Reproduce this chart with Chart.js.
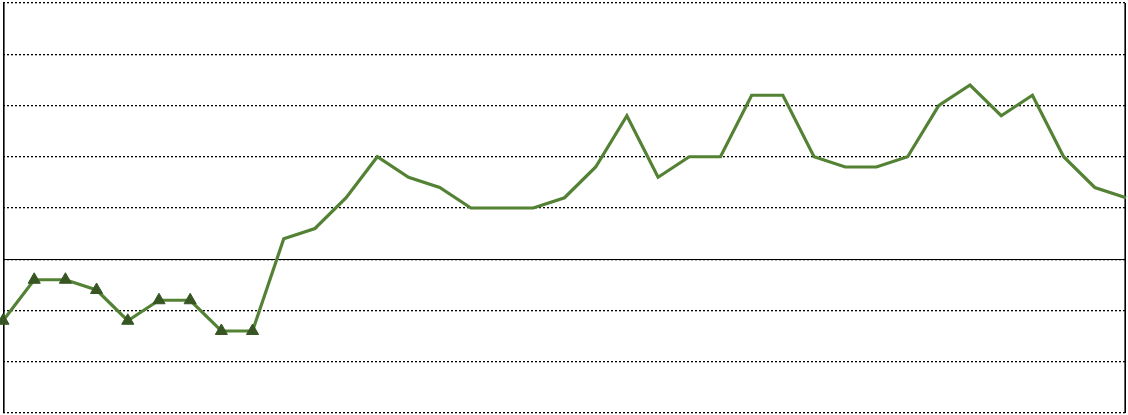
<!DOCTYPE html>
<html lang="en">
<head>
  <meta charset="UTF-8">
  <title>Line chart</title>
  <script src="https://cdn.jsdelivr.net/npm/chart.js"></script>
  <style>
    html, body { margin: 0; padding: 0; background: #fff; }
    #wrap { width: 1128px; height: 415px; }
  </style>
</head>
<body>
  <div id="wrap"><canvas id="lineChart"></canvas></div>

  <script>
    // nilai-nilai (37 titik)
    const labels = Array.from({ length: 37 }, (_, i) => String(i + 1));
    const values = [
      -1.2, -0.4, -0.4, -0.6, -1.2, -0.8, -0.8, -1.4, -1.4,
      0.4, 0.6, 1.2, 2.0, 1.6, 1.4, 1.0, 1.0, 1.0, 1.2, 1.8,
      2.8, 1.6, 2.0, 2.0, 3.2, 3.2, 2.0, 1.8, 1.8, 2.0,
      3.0, 3.4, 2.8, 3.2, 2.0, 1.4, 1.2
    ];
    const yTicks = [-3, -2, -1, 0, 1, 2, 3, 4, 5];

    // garis nol dan sisi kiri/kanan area grafik
    const framePlugin = {
      id: 'frame',
      beforeDatasetsDraw(chart) {
        const { ctx, chartArea: a, scales } = chart;
        const y0 = Math.round(scales.y.getPixelForValue(0)) + 0.5;
        ctx.save();
        ctx.strokeStyle = '#000';
        ctx.lineWidth = 1.2;
        ctx.beginPath();
        ctx.moveTo(a.left, y0);
        ctx.lineTo(a.right, y0);
        ctx.stroke();
        ctx.lineWidth = 1.6;
        ctx.beginPath();
        ctx.moveTo(a.left + 0.8, a.top);
        ctx.lineTo(a.left + 0.8, a.bottom);
        ctx.moveTo(a.right - 0.8, a.top);
        ctx.lineTo(a.right - 0.8, a.bottom);
        ctx.stroke();
        ctx.restore();
      }
    };

    const ctx = document.getElementById('lineChart').getContext('2d');
    new Chart(ctx, {
      type: 'line',
      data: {
        labels: labels,
        datasets: [{
          data: values,
          borderColor: '#548235',
          borderWidth: 3.2,
          tension: 0,
          pointStyle: 'triangle',
          pointRadius: values.map(v => v < 0 ? 7 : 0),
          pointBackgroundColor: '#375623',
          pointBorderColor: '#375623',
          pointBorderWidth: 1
        }]
      },
      options: {
        responsive: true,
        maintainAspectRatio: false,
        animation: false,
        layout: { autoPadding: false, padding: { left: 3, right: 2, top: 3, bottom: 2 } },
        plugins: {
          legend: { display: false },
          tooltip: { enabled: false }
        },
        scales: {
          x: {
            offset: false,
            grid: { display: false, drawTicks: false },
            border: { display: false },
            ticks: { display: false }
          },
          y: {
            min: yTicks[0],
            max: yTicks[yTicks.length - 1],
            afterBuildTicks: axis => { axis.ticks = yTicks.map(v => ({ value: v })); },
            grid: { color: '#000', lineWidth: 1.3, drawTicks: false },
            border: { display: false, dash: [2, 2] },
            ticks: { display: false }
          }
        }
      },
      plugins: [framePlugin]
    });
  </script>
</body>
</html>
